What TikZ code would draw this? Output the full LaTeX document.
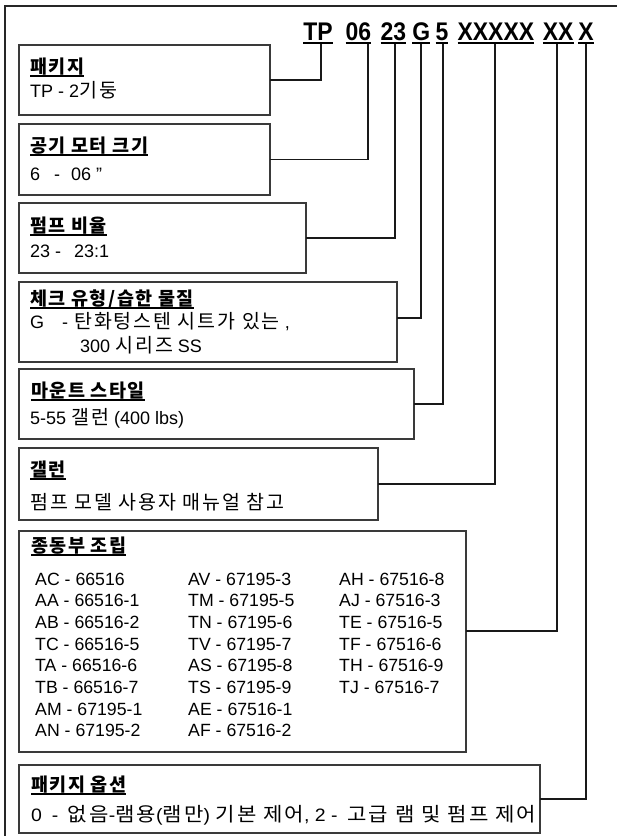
\documentclass[tikz,border=0pt]{standalone}
\usepackage{fontspec}
\usepackage{graphicx}
\setmainfont{Liberation Sans}
\newfontfamily\codefont[FakeStretch=0.9]{Liberation Sans}
\newfontfamily\krb[LetterSpace=10]{Noto Sans CJK KR}
\newfontfamily\krh[LetterSpace=8]{Noto Sans CJK KR}
\newcommand\K[1]{{\krb\fontsize{19.5}{22}\selectfont #1}}
\newcommand\KH[1]{{\krh\bfseries\fontsize{18.5}{22}\selectfont #1}}
\newcommand\ulhd[1]{\setbox0\hbox{#1}\rlap{\rule[-3.8pt]{\wd0}{1.4pt}}\box0}
\newcommand\ulcode[1]{\setbox0\hbox{#1}\rlap{\rule[-4.2pt]{\wd0}{1.8pt}}\box0}
\definecolor{boxgray}{HTML}{3A3A3A}
\tikzset{
  box/.style={draw=boxgray, line width=1.3pt, anchor=north west, inner sep=0pt, outer sep=0pt},
  conn/.style={draw=black!90, line width=1.2pt},
  frameline/.style={draw=black!85, line width=1.6pt},
  hdr/.style={anchor=base west, inner sep=0pt, font=\fontsize{17.5}{20}\selectfont\bfseries},
  txt/.style={anchor=base west, inner sep=0pt, font=\fontsize{18}{20}\selectfont},
  lst/.style={anchor=base west, inner sep=0pt, font=\fontsize{17.7}{20}\selectfont},
  code/.style={anchor=base, inner sep=0pt, font=\codefont\fontsize{25.5}{28}\selectfont\bfseries},
}
\begin{document}
\begin{tikzpicture}[x=1pt,y=-1pt]
\useasboundingbox (0,0) rectangle (617,836);
% outer frame
\draw[frameline] (5,836) -- (5,6) -- (617,6);
% model code
\node[code] (cTP) at (318,40)   {\ulcode{TP}};
\node[code] (c06) at (358.3,40) {\ulcode{06}};
\node[code] (c23) at (393.3,40) {\ulcode{23}};
\node[code] (cG)  at (421.3,40) {\ulcode{G}};
\node[code] (c5)  at (441.9,40) {\ulcode{5}};
\node[code] (cX5) at (495.9,40) {\ulcode{XXXXX}};
\node[code] (cX2) at (558.2,40) {\ulcode{XX}};
\node[code] (cX1) at (585.9,40) {\ulcode{X}};
\coordinate (pTP) at (321,44);
\coordinate (p06) at (368,44);
\coordinate (p23) at (395,44);
\coordinate (pG)  at (421,44);
\coordinate (p5)  at (443,44);
\coordinate (pX5) at (495,44);
\coordinate (pX2) at (557,44);
\coordinate (pX1) at (586,44);
% boxes
\node[box, minimum width=251pt, minimum height=70pt] (b1) at (19,45) {};
\node[box, minimum width=251pt, minimum height=71pt] (b2) at (19,124) {};
\node[box, minimum width=287pt, minimum height=70pt] (b3) at (19,203) {};
\node[box, minimum width=378pt, minimum height=80pt] (b4) at (19,282) {};
\node[box, minimum width=395pt, minimum height=70pt] (b5) at (19,369) {};
\node[box, minimum width=359pt, minimum height=72pt] (b6) at (19,448) {};
\node[box, minimum width=447pt, minimum height=221pt] (b7) at (19,531) {};
\node[box, minimum width=521pt, minimum height=68pt] (b8) at (19,765) {};
% connectors
\draw[conn] (b1.east) -| (pTP);
\draw[conn] (b2.east) -| (p06);
\draw[conn] (b3.east) -| (p23);
\draw[conn] ([yshift=4pt]b4.east) -| (pG);
\draw[conn] (b5.east) -| (p5);
\draw[conn] (b6.east) -| (pX5);
\draw[conn] ([yshift=10.5pt]b7.east) -| (pX2);
\draw[conn] (b8.east) -| (pX1);
% box texts
\node[hdr] (h1) at (30,73) {\ulhd{\KH{패키지}}};
\node[txt] (t1) at (30,97) {TP - 2\K{기둥}};
\node[hdr] (h2) at (30,152) {\ulhd{\KH{공기 모터 크기}}};
\node[txt] (t2) at (30,180) {6\hspace{14pt}-\hspace{11pt}06 ”};
\node[hdr] (h3) at (30,232) {\ulhd{\KH{펌프 비율}}};
\node[txt] (t3) at (30,257) {23 -\hspace{13pt}23:1};
\node[hdr] (h4) at (30,305) {\ulhd{\KH{체크 유형/습한 물질}}};
\node[txt] (t4a) at (30,328) {G\hspace{18pt}-\hspace{6pt}\K{탄화텅스텐 시트가 있는} ,};
\node[txt] (t4b) at (80,352) {300 \K{시리즈} SS};
\node[hdr] (h5) at (31,397) {\ulhd{\KH{마운트 스타일}}};
\node[txt] (t5) at (30,424) {5-55 \K{갤런} (400 lbs)};
\node[hdr] (h6) at (30,476) {\ulhd{\KH{갤런}}};
\node[txt] (t6) at (30,509) {\K{펌프 모델 사용자 매뉴얼 참고}};
\node[hdr] (h7) at (31,552) {\ulhd{\KH{종동부 조립}}};
\foreach \n/\t [count=\i from 0] in {a/AC - 66516, b/AA - 66516-1, c/AB - 66516-2, d/TC - 66516-5, e/TA - 66516-6, f/TB - 66516-7, g/AM - 67195-1, h/AN - 67195-2}
  \node[lst] (l1\n) at (35,585+21.7*\i) {\t};
\foreach \n/\t [count=\i from 0] in {a/AV - 67195-3, b/TM - 67195-5, c/TN - 67195-6, d/TV - 67195-7, e/AS - 67195-8, f/TS - 67195-9, g/AE - 67516-1, h/AF - 67516-2}
  \node[lst] (l2\n) at (188,585+21.7*\i) {\t};
\foreach \n/\t [count=\i from 0] in {a/AH - 67516-8, b/AJ - 67516-3, c/TE - 67516-5, d/TF - 67516-6, e/TH - 67516-9, f/TJ - 67516-7}
  \node[lst] (l3\n) at (339,585+21.7*\i) {\t};
\node[hdr] (h8) at (31,791) {\ulhd{\KH{패키지 옵션}}};
\node[txt] (t8) at (31,821) {\resizebox{505pt}{\height}{0\hspace{9pt}-\hspace{9pt}\K{없음}-\K{램용}(\K{램만}) \K{기본 제어}, 2 -\hspace{9pt}\K{고급 램 및 펌프 제어}}};
\end{tikzpicture}
\end{document}
